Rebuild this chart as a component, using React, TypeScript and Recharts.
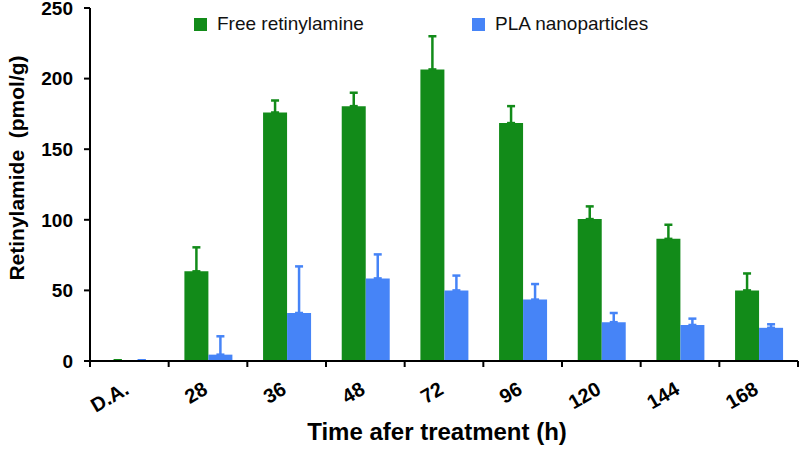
import { BarChart, Bar, XAxis, YAxis, ErrorBar, Legend } from "recharts"

const times = ["D.A.", "28", "36", "48", "72", "96", "120", "144", "168"]
const freeMean = [0.5, 63.5, 176, 180.5, 206.5, 168.5, 100.5, 86.5, 50]
const freeErr = [0, 17, 8.5, 9.5, 23.5, 12, 9, 10, 12]
const plaMean = [0.5, 4.5, 34, 58.5, 50, 43.5, 27.5, 25.5, 23.5]
const plaErr = [0, 13, 33, 17, 10.5, 11, 6.5, 4.5, 2.5]
const yTicks = [0, 50, 100, 150, 200, 250]

const GREEN = "#128b19"
const BLUE = "#4684f7"
const FONT = "'Liberation Sans', Arial, Helvetica, sans-serif"

const data = times.map((t, i) => ({
  time: t,
  free: freeMean[i],
  freeE: [0, freeErr[i]],
  pla: plaMean[i],
  plaE: [0, plaErr[i]],
}))

function TimeTick(props: any) {
  const { x, y, payload, index } = props
  const half = payload.offset ?? 0
  const lx = x + 1
  const ly = y + 32
  return (
    <g>
      <line x1={x - half} y1={y} x2={x - half} y2={y + 6} stroke="#000" strokeWidth={2} />
      {index === times.length - 1 && (
        <line x1={x + half} y1={y} x2={x + half} y2={y + 6} stroke="#000" strokeWidth={2} />
      )}
      <text
        x={lx}
        y={ly}
        textAnchor="end"
        transform={`rotate(-30 ${lx} ${ly})`}
        fontFamily={FONT}
        fontWeight="bold"
        fontSize={20}
        fill="#000"
      >
        {payload.value}
      </text>
    </g>
  )
}

function LegendBox({ payload }: any) {
  return (
    <div style={{ display: "flex", fontFamily: FONT, fontSize: 19, color: "#111" }}>
      {(payload || []).map((p: any) => (
        <div key={p.value} style={{ width: 278, display: "flex", alignItems: "center" }}>
          <span style={{ width: 13, height: 13, background: p.color, marginRight: 10 }} />
          <span>{p.value}</span>
        </div>
      ))}
    </div>
  )
}

export default function App() {
  return (
    <div style={{ position: "absolute", left: 0, top: 0, background: "#fff" }}>
      <BarChart
        width={800}
        height={454}
        data={data}
        margin={{ top: 8, right: 2, left: 0, bottom: 0 }}
        barCategoryGap="20%"
        barGap={0}
      >
        <XAxis
          dataKey="time"
          height={93}
          interval={0}
          tickSize={0}
          tickMargin={0}
          tickLine={false}
          axisLine={{ stroke: "#000", strokeWidth: 2 }}
          tick={<TimeTick />}
          label={({ viewBox }: any) => (
            <text
              x={viewBox.x + viewBox.width / 2 - 7}
              y={viewBox.y + 79}
              textAnchor="middle"
              fontFamily={FONT}
              fontWeight="bold"
              fontSize={24}
              fill="#000"
            >
              Time afer treatment (h)
            </text>
          )}
        />
        <YAxis
          width={90}
          domain={[0, 250]}
          ticks={yTicks}
          interval={0}
          tickSize={6}
          tickMargin={11}
          axisLine={{ stroke: "#000", strokeWidth: 2 }}
          tickLine={{ stroke: "#000", strokeWidth: 2 }}
          tick={{ fontFamily: FONT, fontWeight: "bold", fontSize: 19, fill: "#000" }}
          label={() => (
            <text
              x={24}
              y={168}
              textAnchor="middle"
              transform="rotate(-90 24 168)"
              fontFamily={FONT}
              fontWeight="bold"
              fontSize={21}
              fill="#000"
              style={{ whiteSpace: "pre" }}
            >
              {"Retinylamide\u00a0\u00a0(pmol/g)"}
            </text>
          )}
        />
        <Legend
          verticalAlign="middle"
          align="center"
          layout="horizontal"
          wrapperStyle={{ top: 13, left: 194, width: 560 }}
          content={<LegendBox />}
        />
        <Bar dataKey="free" name="Free retinylamine" fill={GREEN} isAnimationActive={false}>
          <ErrorBar dataKey="freeE" direction="y" width={4} stroke={GREEN} strokeWidth={2.5} />
        </Bar>
        <Bar dataKey="pla" name="PLA nanoparticles" fill={BLUE} isAnimationActive={false}>
          <ErrorBar dataKey="plaE" direction="y" width={4} stroke={BLUE} strokeWidth={2.5} />
        </Bar>
      </BarChart>
    </div>
  )
}
